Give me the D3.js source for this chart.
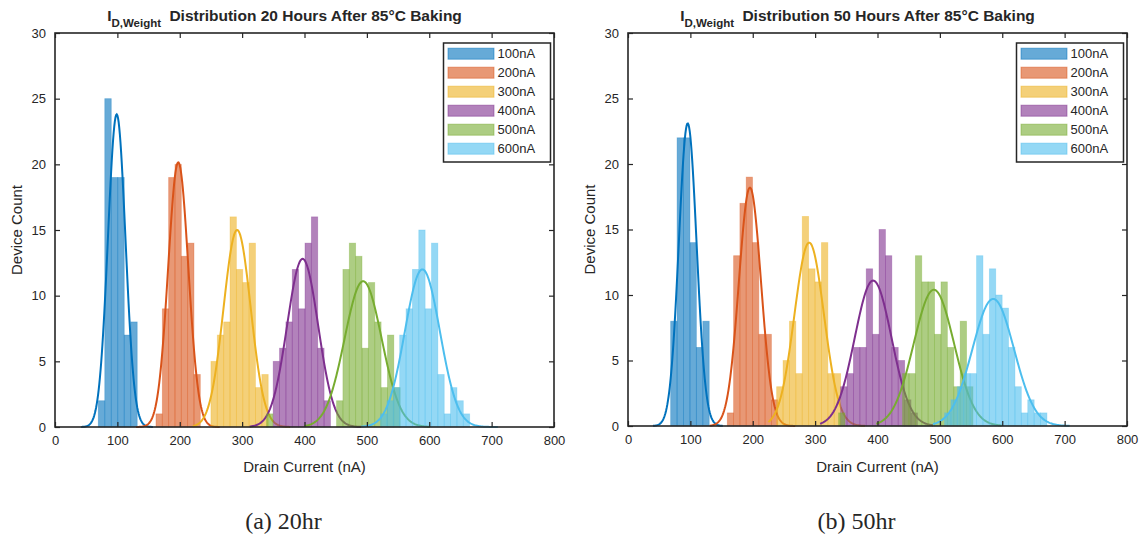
<!DOCTYPE html>
<html>
<head>
<meta charset="utf-8">
<script src="https://cdn.jsdelivr.net/npm/d3@7"></script>
<style>
  body { margin: 0; background: #fff; }
  text { font-family: "Liberation Sans", Arial, sans-serif; fill: #262626; }
</style>
</head>
<body>
<svg id="chart" width="1146" height="544"></svg>
<script>
const seriesNames = ['100nA', '200nA', '300nA', '400nA', '500nA', '600nA']
const colors = ['#0072BD', '#D95319', '#EDB120', '#7E2F8E', '#77AC30', '#4DBEEE']
const xTicks = [0, 100, 200, 300, 400, 500, 600, 700, 800]
const yTicks = [0, 5, 10, 15, 20, 25, 30]

// 20 hours after baking: histogram bins (start, width, counts per bin)
const binStart20 = [69.4, 161.9, 250, 349.8, 339.2, 522]
const binWidth20 = [10.4, 10.15, 10.2, 10.2, 10.2, 10.2]
const counts20 = [
  [2, 25, 19, 19, 7, 8],
  [1, 9, 19, 20, 13, 14, 4],
  [5, 7, 8, 16, 12, 11, 14, 3, 4],
  [5, 6, 8, 12, 9, 14, 16, 6, 2],
  [1, 0, 0, 0, 0, 0, 0, 0, 0, 0, 0, 2, 12, 14, 13, 6, 11, 8, 3, 7, 3],
  [1, 2, 3, 7, 9, 12, 15, 9, 14, 4, 1, 3, 2, 1]
]
// fitted normal curves
const fitMean20 = [98.9, 197.6, 292, 397, 494, 589]
const fitSigma20 = [14.0, 16.1, 21.7, 24.8, 29.7, 28.1]
const fitPeak20 = [23.8, 20.15, 15.0, 12.8, 11.1, 12.0]
const fitRange20 = [[42, 157], [130, 264], [221, 377], [312, 491], [400, 601], [491, 710]]

// 50 hours after baking
const binStart50 = [68.4, 159.2, 238.3, 340.9, 337.6, 507.5]
const binWidth50 = [10.3, 10.1, 10.26, 10.26, 10.26, 10.26]
const counts50 = [
  [8, 22, 22, 14, 6, 8],
  [1, 13, 17, 19, 14, 7, 7, 2],
  [3, 5, 8, 4, 16, 12, 11, 14, 4, 4],
  [3, 4, 6, 6, 12, 7, 15, 13, 6, 5, 2, 1],
  [1, 0, 0, 0, 0, 0, 0, 0, 0, 0, 4, 4, 13, 11, 11, 7, 11, 6, 3, 8, 3],
  [1, 2, 3, 4, 4, 13, 7, 12, 10, 9, 6, 3, 1, 2, 1, 1]
]
const fitMean50 = [95.7, 195.5, 290.5, 393, 490.4, 585.5]
const fitSigma50 = [14.2, 17.7, 23.7, 29.5, 32.3, 33.3]
const fitPeak50 = [23.1, 18.2, 14.0, 11.1, 10.4, 9.7]
const fitRange50 = [[40, 152], [131, 268], [225, 380], [308, 489], [398, 599], [489, 708]]

const svg = d3.select('#chart')
svg.append('rect').attr('width', 1146).attr('height', 544).attr('fill', '#fff')

const panels = [
  { hours: 20, caption: '(a) 20hr', left: 55, right: 554, top: 33, bottom: 427,
    start: binStart20, width: binWidth20, counts: counts20,
    mu: fitMean20, sd: fitSigma20, peak: fitPeak20, range: fitRange20 },
  { hours: 50, caption: '(b) 50hr', left: 628, right: 1127, top: 33, bottom: 426,
    start: binStart50, width: binWidth50, counts: counts50,
    mu: fitMean50, sd: fitSigma50, peak: fitPeak50, range: fitRange50 }
]

function drawPanel(p) {
  const x = d3.scaleLinear().domain([0, 800]).range([p.left, p.right])
  const y = d3.scaleLinear().domain([0, 30]).range([p.bottom, p.top])
  const g = svg.append('g')

  seriesNames.forEach((name, i) => {
    const bars = p.counts[i]
      .map((c, k) => ({ x0: p.start[i] + k * p.width[i], x1: p.start[i] + (k + 1) * p.width[i], c }))
      .filter((d) => d.c > 0)
    g.append('g')
      .selectAll('rect')
      .data(bars)
      .join('rect')
      .attr('x', (d) => x(d.x0))
      .attr('width', (d) => x(d.x1) - x(d.x0))
      .attr('y', (d) => y(d.c))
      .attr('height', (d) => y(0) - y(d.c))
      .attr('fill', colors[i])
      .attr('fill-opacity', 0.6)
      .attr('stroke', colors[i])
      .attr('stroke-opacity', 0.35)
      .attr('stroke-width', 0.8)

    const pts = d3.range(p.range[i][0], p.range[i][1] + 0.5, 1)
      .map((v) => [v, p.peak[i] * Math.exp(-((v - p.mu[i]) ** 2) / (2 * p.sd[i] ** 2))])
    g.append('path')
      .datum(pts)
      .attr('d', d3.line().x((d) => x(d[0])).y((d) => y(d[1])))
      .attr('fill', 'none')
      .attr('stroke', colors[i])
      .attr('stroke-width', 2)
  })

  // axes, MATLAB style: box on, ticks pointing inward
  const axisColor = '#262626'
  const bottom = g.append('g').attr('transform', `translate(0,${p.bottom})`)
    .call(d3.axisBottom(x).tickValues(xTicks).tickSizeInner(-5).tickSizeOuter(0).tickPadding(9))
  const top = g.append('g').attr('transform', `translate(0,${p.top})`)
    .call(d3.axisTop(x).tickValues(xTicks).tickSizeInner(-5).tickSizeOuter(0).tickFormat(''))
  const left = g.append('g').attr('transform', `translate(${p.left},0)`)
    .call(d3.axisLeft(y).tickValues(yTicks).tickSizeInner(-5).tickSizeOuter(0).tickPadding(9))
  const right = g.append('g').attr('transform', `translate(${p.right},0)`)
    .call(d3.axisRight(y).tickValues(yTicks).tickSizeInner(-5).tickSizeOuter(0).tickFormat(''))
  ;[bottom, top, left, right].forEach((a) => {
    a.select('.domain').remove()
    a.selectAll('line').attr('stroke', axisColor).attr('stroke-width', 1.2)
    a.selectAll('text').attr('font-size', 13).attr('fill', axisColor)
      .style('font-family', '"Liberation Sans", Arial, sans-serif')
  })
  g.append('rect')
    .attr('x', p.left).attr('y', p.top)
    .attr('width', p.right - p.left).attr('height', p.bottom - p.top)
    .attr('fill', 'none').attr('stroke', axisColor).attr('stroke-width', 1.6)

  const cx = (p.left + p.right) / 2
  g.append('text').attr('x', cx).attr('y', 472).attr('text-anchor', 'middle')
    .attr('font-size', 15).text('Drain Current (nA)')
  g.append('text')
    .attr('transform', `translate(${p.left - 33},${(p.top + p.bottom) / 2}) rotate(-90)`)
    .attr('text-anchor', 'middle').attr('font-size', 15).text('Device Count')

  // title with subscript
  const title = g.append('text').attr('x', cx - 20).attr('y', 21)
    .attr('text-anchor', 'middle').attr('font-weight', 'bold').attr('font-size', 15.5)
  title.append('tspan').text('I')
  title.append('tspan').attr('dy', 6).attr('font-size', 11.5).text('D,Weight')
  title.append('tspan').attr('dy', -6).attr('dx', 4)
    .text(` Distribution ${p.hours} Hours After 85°C Baking`)

  // legend
  const lw = 107, lh = 119
  const lx = p.right - 3.5 - lw, ly = p.top + 10
  const leg = g.append('g').attr('transform', `translate(${lx},${ly})`)
  leg.append('rect').attr('width', lw).attr('height', lh)
    .attr('fill', '#fff').attr('stroke', axisColor).attr('stroke-width', 1.5)
  seriesNames.forEach((name, i) => {
    const ry = 10.7 + i * 19
    leg.append('rect').attr('x', 4.5).attr('y', ry - 5.5).attr('width', 46).attr('height', 11)
      .attr('fill', colors[i]).attr('fill-opacity', 0.6)
      .attr('stroke', colors[i]).attr('stroke-opacity', 0.5).attr('stroke-width', 1)
    leg.append('text').attr('x', 54).attr('y', ry).attr('dy', '0.35em')
      .attr('font-size', 13).text(name)
  })

  // caption
  svg.append('text').attr('x', cx - 21).attr('y', 529).attr('text-anchor', 'middle')
    .style('font-family', '"Liberation Serif", "DejaVu Serif", serif')
    .attr('font-size', 24).attr('fill', '#000').text(p.caption)
}

panels.forEach(drawPanel)
</script>
</body>
</html>
